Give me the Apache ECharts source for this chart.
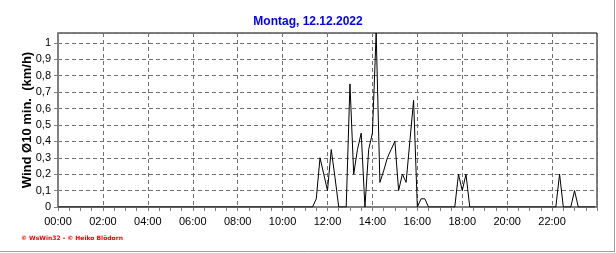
<!DOCTYPE html>
<html>
<head>
<meta charset="utf-8">
<script src="https://cdn.jsdelivr.net/npm/echarts@6/dist/echarts.min.js"></script>
<style>
html,body{margin:0;padding:0;background:#fff;}
#chart{width:616px;height:253px;}
</style>
</head>
<body>
<div id="chart"></div>
<script>
// Data (10-minute wind average, km/h)
var titleText = 'Montag, 12.12.2022';
var yAxisName = 'Wind Ø10 min.  (km/h)';
var footerText = '© WsWin32 - © Heiko Blödorn';
var times = ['00:00','11:20','11:30','11:40','11:50','12:00','12:10','12:20','12:30','12:50',
             '13:00','13:10','13:20','13:30','13:40','13:50','14:00','14:10','14:20','14:30',
             '14:40','14:50','15:00','15:10','15:20','15:30','15:40','15:50','16:00','16:10',
             '16:20','16:30','17:40','17:50','18:00','18:10','18:20','22:10','22:20','22:30',
             '22:50','23:00','23:10','23:55'];
var windValues = [0,0,0.05,0.30,0.20,0.10,0.35,0.18,0,0,
                  0.75,0.20,0.35,0.45,0,0.35,0.45,1.06,0.15,0.22,
                  0.30,0.35,0.40,0.10,0.20,0.15,0.40,0.65,0,0.05,
                  0.05,0,0,0.20,0.10,0.20,0,0,0.20,0,
                  0,0.10,0,0];
var xTickLabels = ['00:00','02:00','04:00','06:00','08:00','10:00','12:00','14:00','16:00','18:00','20:00','22:00'];
var yTickLabels = ['0','0,1','0,2','0,3','0,4','0,5','0,6','0,7','0,8','0,9','1'];

function toMin(t){var p=t.split(':');return (+p[0])*60+(+p[1]);}
var seriesData = times.map(function(t,i){return [toMin(t), windValues[i]];});

var chart = echarts.init(document.getElementById('chart'), null, {renderer:'canvas'});
var FONT = 'Liberation Sans';
chart.setOption({
  animation:false,
  backgroundColor:'#ffffff',
  title:{
    text:titleText, left:'center', top:11,
    textStyle:{color:'#0000ff', fontSize:12, fontWeight:'bold', fontFamily:FONT}
  },
  grid:{left:58, right:19, top:33, bottom:46, show:true, borderColor:'#000000', borderWidth:1},
  xAxis:{
    type:'value', min:0, max:1440, interval:120,
    axisLine:{show:true, onZero:false, lineStyle:{color:'#808080', width:2}},
    axisTick:{show:true, length:4, lineStyle:{color:'#808080'}},
    minorTick:{show:true, splitNumber:4, length:4, lineStyle:{color:'#808080'}},
    splitLine:{show:true, lineStyle:{color:'#707070', type:[4,3], width:1}},
    axisLabel:{
      color:'#000', fontSize:11, fontFamily:FONT, margin:9,
      formatter:function(v){var i=Math.round(v/120);return (v%120===0 && i<xTickLabels.length)?xTickLabels[i]:'';}
    }
  },
  yAxis:{
    type:'value', min:0, max:1.06, interval:0.1,
    name:yAxisName, nameLocation:'middle', nameRotate:90, nameGap:31, nameMoveOverlap:false,
    nameTextStyle:{color:'#000', fontSize:13, fontWeight:'bold', fontFamily:FONT, verticalAlign:'middle'},
    axisLine:{show:true, lineStyle:{color:'#808080', width:2}},
    axisTick:{show:true, length:4, lineStyle:{color:'#808080'}},
    splitLine:{show:true, lineStyle:{color:'#707070', type:[4,3], width:1}},
    axisLabel:{
      color:'#000', fontSize:11, fontFamily:FONT, margin:7, showMaxLabel:false,
      formatter:function(v){var i=Math.round(v*10);return (Math.abs(v*10-i)<1e-6 && i<yTickLabels.length)?yTickLabels[i]:'';}
    }
  },
  series:[{
    type:'line', data:seriesData, showSymbol:false, symbol:'none',
    lineStyle:{color:'#000000', width:1}, z:5, clip:true
  }],
  graphic:[
    {type:'text', left:21, top:235, style:{text:footerText, fill:'#ff0000', font:'bold 6px "DejaVu Sans"'}},
    {type:'line', shape:{x1:614.5,y1:0,x2:614.5,y2:252}, style:{stroke:'#a0a0a0', lineWidth:1}},
    {type:'line', shape:{x1:0,y1:251.5,x2:615,y2:251.5}, style:{stroke:'#a0a0a0', lineWidth:1}}
  ]
});
</script>
</body>
</html>
